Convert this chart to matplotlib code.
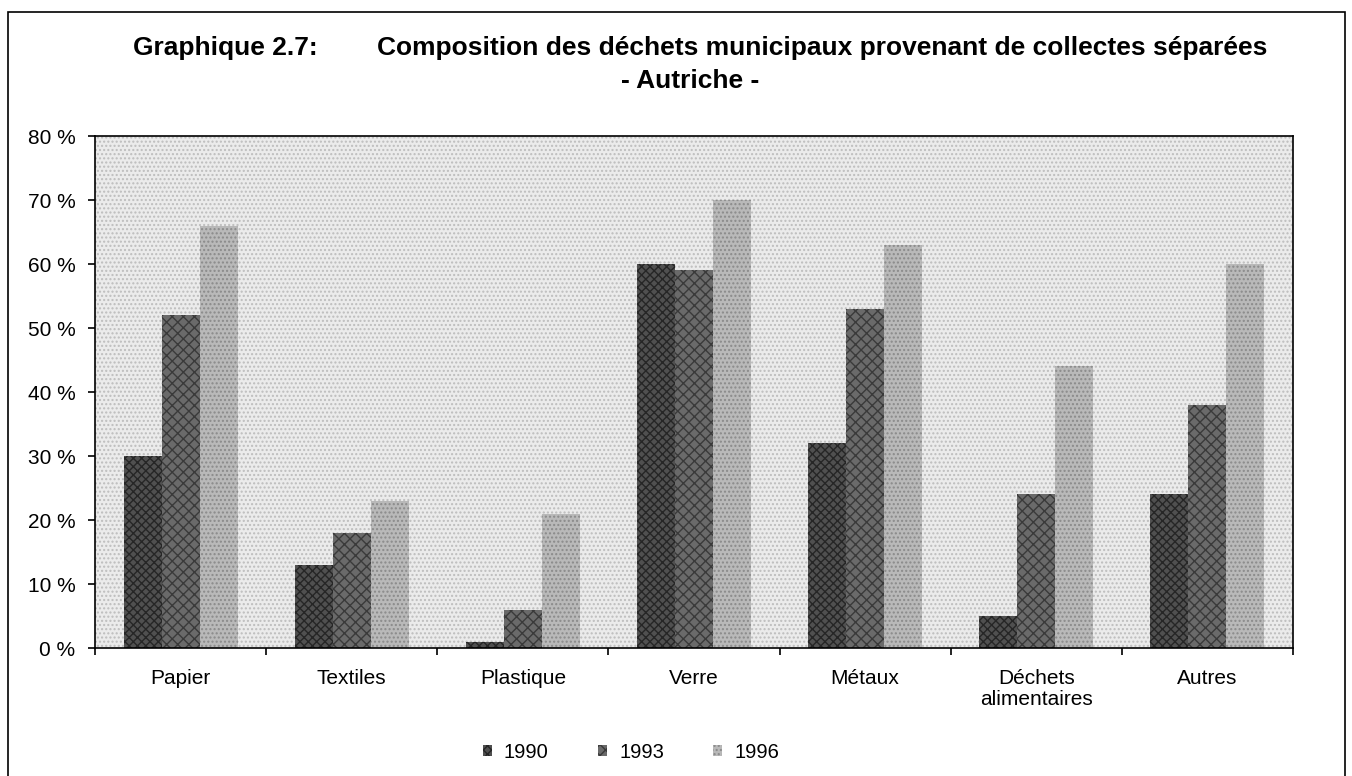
import matplotlib
matplotlib.use("Agg")
import matplotlib.pyplot as plt
import numpy as np
from matplotlib.patches import Rectangle
from matplotlib.ticker import FuncFormatter, MultipleLocator

categories = ["Papier", "Textiles", "Plastique", "Verre", "Métaux",
              "Déchets\nalimentaires", "Autres"]
years = ["1990", "1993", "1996"]
share_1990 = [30, 13, 1, 60, 32, 5, 24]
share_1993 = [52, 18, 6, 59, 53, 24, 38]
share_1996 = [66, 23, 21, 70, 63, 44, 60]

plt.rcParams["font.family"] = ["Liberation Sans", "DejaVu Sans"]

W, H = 1352, 776
fig = plt.figure(figsize=(W / 100, H / 100), dpi=100)
fig.patch.set_facecolor("white")

# outer frame of the chart
fig.add_artist(Rectangle((8 / W, -0.01), (1345 - 8) / W, 1 - 12 / H + 0.01,
                         transform=fig.transFigure, fill=False,
                         edgecolor="black", linewidth=1.2))

ax = fig.add_axes([95 / W, 1 - 648 / H, (1293 - 95) / W, (648 - 136) / H])
ax.set_facecolor("#ebebeb")
ax.add_patch(Rectangle((0, 0), 1, 1, transform=ax.transAxes, facecolor="none",
                       edgecolor="#bdbdbd", hatch="....", linewidth=0, zorder=0.5))

x = np.arange(len(categories))
w = 1 / 4.5
styles = [
    dict(color="#505050", edgecolor="#262626", hatch="xxxx"),
    dict(color="#6a6a6a", edgecolor="#3a3a3a", hatch="xxx"),
    dict(color="#b9b9b9", edgecolor="#8a8a8a", hatch="...."),
]
for i, (vals, label, st) in enumerate(zip([share_1990, share_1993, share_1996], years, styles)):
    ax.bar(x + (i - 1) * w, vals, width=w, label=label, linewidth=0, zorder=2, **st)

ax.set_xlim(-0.5, len(categories) - 0.5)
ax.set_ylim(0, 80)
ax.yaxis.set_major_locator(MultipleLocator(10))
ax.yaxis.set_major_formatter(FuncFormatter(lambda v, _: f"{v:.0f} %"))
ax.tick_params(axis="y", labelsize=15, length=5, width=1.2, pad=9, direction="out")

ax.set_xticks(x)
ax.set_xticklabels(categories, fontsize=15, linespacing=1.15, va="top")
ax.set_xticks(np.arange(len(categories) + 1) - 0.5, minor=True)
ax.tick_params(axis="x", which="major", length=0, pad=15)
ax.tick_params(axis="x", which="minor", length=5, width=1.2, direction="out")

for side in ["top", "right", "left", "bottom"]:
    ax.spines[side].set_linewidth(1.2)
    ax.spines[side].set_color("black")

leg = fig.legend(loc="center", bbox_to_anchor=(631 / W, 1 - 752 / H), ncol=3,
                 frameon=False, fontsize=14.5, handlelength=0.45, handleheight=0.45,
                 handletextpad=0.6, columnspacing=2.45)

fig.text(133 / W, 1 - 48 / H, "Graphique 2.7:", fontsize=19, fontweight="bold",
         ha="left", va="center")
fig.text(377 / W, 1 - 48 / H,
         "Composition des déchets municipaux provenant de collectes séparées",
         fontsize=19, fontweight="bold", ha="left", va="center")
fig.text(690 / W, 1 - 81 / H, "- Autriche -", fontsize=19, fontweight="bold",
         ha="center", va="center")

fig.savefig("out.png", dpi=100)
